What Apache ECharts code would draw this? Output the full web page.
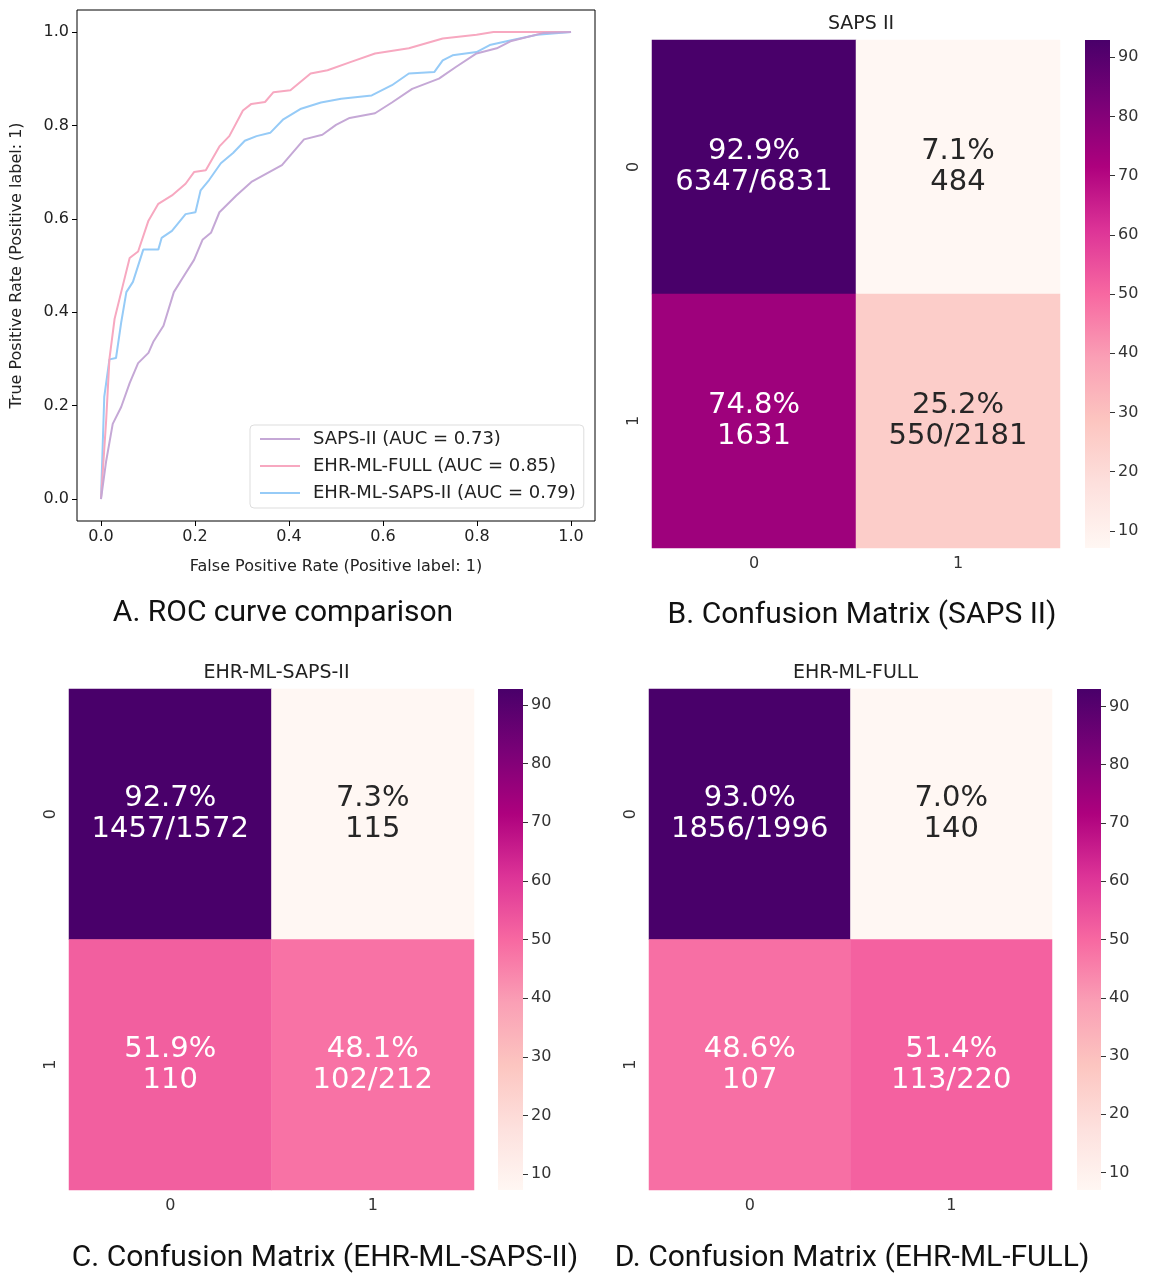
<!DOCTYPE html>
<html>
<head>
<meta charset="utf-8">
<script src="https://cdn.jsdelivr.net/npm/echarts@6/dist/echarts.min.js"></script>
<style>
  html, body { margin: 0; background: #fff; }
  #main { width: 1153px; height: 1280px; }
</style>
</head>
<body>
<div id="main"></div>
<script>
// ROC curves [fpr, tpr]
var rocSaps = [[0,0],[0.011,0.081],[0.025,0.161],[0.043,0.197],[0.061,0.248],[0.079,0.291],[0.101,0.313],[0.112,0.338],[0.133,0.371],[0.155,0.443],[0.173,0.472],[0.198,0.512],[0.216,0.555],[0.234,0.57],[0.252,0.614],[0.288,0.65],[0.32,0.679],[0.385,0.715],[0.432,0.77],[0.471,0.78],[0.5,0.801],[0.529,0.816],[0.583,0.826],[0.619,0.849],[0.662,0.878],[0.719,0.9],[0.755,0.925],[0.799,0.954],[0.842,0.965],[0.871,0.98],[0.942,0.998],[1,1]];
var rocFull = [[0,0],[0.011,0.168],[0.018,0.30],[0.029,0.386],[0.043,0.443],[0.061,0.516],[0.079,0.53],[0.101,0.596],[0.122,0.632],[0.151,0.65],[0.18,0.675],[0.198,0.70],[0.223,0.704],[0.252,0.755],[0.273,0.777],[0.302,0.832],[0.32,0.846],[0.349,0.85],[0.367,0.871],[0.403,0.875],[0.446,0.911],[0.482,0.918],[0.532,0.936],[0.583,0.954],[0.655,0.965],[0.727,0.986],[0.799,0.994],[0.835,1],[1,1]];
var rocEhrSaps = [[0,0],[0.007,0.219],[0.018,0.299],[0.032,0.302],[0.043,0.378],[0.054,0.443],[0.068,0.465],[0.09,0.534],[0.122,0.534],[0.129,0.559],[0.151,0.574],[0.18,0.61],[0.201,0.614],[0.212,0.661],[0.23,0.683],[0.255,0.719],[0.281,0.741],[0.306,0.767],[0.331,0.777],[0.36,0.784],[0.388,0.813],[0.424,0.835],[0.468,0.849],[0.511,0.857],[0.576,0.864],[0.619,0.886],[0.655,0.911],[0.709,0.914],[0.727,0.939],[0.748,0.95],[0.799,0.957],[0.827,0.972],[0.863,0.98],[0.928,0.994],[1,1]];
var rocNames = ['SAPS-II (AUC = 0.73)', 'EHR-ML-FULL (AUC = 0.85)', 'EHR-ML-SAPS-II (AUC = 0.79)'];
var rocTicks = [0, 0.2, 0.4, 0.6, 0.8, 1.0];

// confusion matrices: row-normalised percent and count text
var classes = ['0', '1'];
var pctB = [[92.9, 7.1], [74.8, 25.2]];
var cntB = [['6347/6831', '484'], ['1631', '550/2181']];
var pctC = [[92.7, 7.3], [51.9, 48.1]];
var cntC = [['1457/1572', '115'], ['110', '102/212']];
var pctD = [[93.0, 7.0], [48.6, 51.4]];
var cntD = [['1856/1996', '140'], ['107', '113/220']];
var cbarTicks = [10, 20, 30, 40, 50, 60, 70, 80, 90];

var RdPu = ['#fff7f3', '#fde0dd', '#fcc5c0', '#fa9fb5', '#f768a1', '#dd3497', '#ae017e', '#7a0177', '#49006a'];
var FONT = 'DejaVu Sans';

var chart = echarts.init(document.getElementById('main'));

var rocTick = { show: true, customValues: rocTicks, length: 5, inside: false, lineStyle: { color: '#000' } };
var rocLabel = { customValues: rocTicks, fontFamily: FONT, fontSize: 16, color: '#222', formatter: function (v) { return v.toFixed(1); } };
var grids = [{ left: 77, top: 10, width: 518, height: 511, show: true, borderColor: '#000', borderWidth: 1, backgroundColor: 'transparent' }];
var xAxes = [{
  type: 'value', gridIndex: 0, min: -0.051, max: 1.051, position: 'bottom',
  name: 'False Positive Rate (Positive label: 1)', nameLocation: 'middle', nameGap: 38,
  nameTextStyle: { fontFamily: FONT, fontSize: 16, color: '#222' },
  axisLine: { show: false, onZero: false }, splitLine: { show: false },
  axisTick: rocTick, axisLabel: rocLabel
}];
var yAxes = [{
  type: 'value', gridIndex: 0, min: -0.047, max: 1.047, position: 'left',
  name: 'True Positive Rate (Positive label: 1)', nameLocation: 'middle', nameGap: 52,
  nameTextStyle: { fontFamily: FONT, fontSize: 16, color: '#222' },
  axisLine: { show: false, onZero: false }, splitLine: { show: false },
  axisTick: rocTick, axisLabel: rocLabel
}];
var rocColors = ['#c5a8d6', '#f7a8c0', '#96cbf7'];
var series = [rocSaps, rocFull, rocEhrSaps].map(function (d, i) {
  return { type: 'line', name: rocNames[i], xAxisIndex: 0, yAxisIndex: 0, data: d, showSymbol: false,
    lineStyle: { color: rocColors[i], width: 2 }, itemStyle: { color: rocColors[i] }, z: 3 - i };
});
var titles = [];
var visualMaps = [];

function addMatrix(pct, cnt, box, cbar, title) {
  var gi = grids.length;
  grids.push({ left: box[0], top: box[1], width: box[2], height: box[3] });
  grids.push({ left: cbar[0], top: box[1], width: cbar[1], height: box[3] });
  var flat = [].concat(pct[0], pct[1]);
  var vmin = Math.min.apply(null, flat), vmax = Math.max.apply(null, flat);
  var tickFont = { fontFamily: FONT, fontSize: 16, color: '#333' };
  xAxes.push({ type: 'category', gridIndex: gi, data: classes, axisLine: { show: false },
    axisTick: { alignWithLabel: true, length: 5, lineStyle: { color: '#333' } }, axisLabel: tickFont, splitArea: { show: false } });
  yAxes.push({ type: 'category', gridIndex: gi, data: classes, inverse: true, axisLine: { show: false },
    axisTick: { alignWithLabel: true, length: 5, lineStyle: { color: '#333' } },
    axisLabel: Object.assign({ rotate: 90, margin: 10 }, tickFont) });
  xAxes.push({ type: 'category', gridIndex: gi + 1, data: [''], show: false });
  yAxes.push({ type: 'value', gridIndex: gi + 1, min: vmin, max: vmax, position: 'right',
    axisLine: { show: false }, splitLine: { show: false },
    axisTick: { show: true, customValues: cbarTicks, length: 5, lineStyle: { color: '#333' } },
    axisLabel: Object.assign({ customValues: cbarTicks, margin: 8 }, tickFont) });
  var data = [];
  for (var r = 0; r < 2; r++) for (var c = 0; c < 2; c++) {
    var norm = (pct[r][c] - vmin) / (vmax - vmin);
    data.push({ value: [c, r, pct[r][c]], label: { color: norm > 0.4 ? '#fff' : '#262626',
      formatter: pct[r][c].toFixed(1) + '%\n' + cnt[r][c] } });
  }
  var si = series.length;
  series.push({ type: 'heatmap', xAxisIndex: gi, yAxisIndex: gi, data: data,
    label: { show: true, fontFamily: FONT, fontSize: 29, lineHeight: 31 } });
  visualMaps.push({ type: 'continuous', show: false, seriesIndex: si, min: vmin, max: vmax, dimension: 2, inRange: { color: RdPu } });
  var stops = RdPu.map(function (col, i) { return { offset: 1 - i / (RdPu.length - 1), color: col }; });
  series.push({ type: 'bar', xAxisIndex: gi + 1, yAxisIndex: gi + 1, data: [vmax], barWidth: '100%', silent: true,
    itemStyle: { color: new echarts.graphic.LinearGradient(0, 0, 0, 1, stops) } });
  titles.push({ text: title, left: box[0] + box[2] / 2, top: box[1] - 30, textAlign: 'center',
    textStyle: { fontFamily: FONT, fontSize: 19, fontWeight: 'normal', color: '#222' } });
}

addMatrix(pctB, cntB, [652, 40, 408, 508], [1085, 25], 'SAPS II');
addMatrix(pctC, cntC, [69, 689, 405, 501], [498, 25], 'EHR-ML-SAPS-II');
addMatrix(pctD, cntD, [649, 689, 403, 501], [1077, 24], 'EHR-ML-FULL');

var capStyle = { fontFamily: 'Roboto', fontSize: 30, fontWeight: 'normal', color: '#111' };
[['A. ROC curve comparison', 278, 593], ['B. Confusion Matrix (SAPS II)', 857, 595],
 ['C. Confusion Matrix (EHR-ML-SAPS-II)', 320, 1238], ['D. Confusion Matrix (EHR-ML-FULL)', 847, 1238]].forEach(function (t) {
  titles.push({ text: t[0], left: t[1], top: t[2], textAlign: 'center', textStyle: capStyle });
});

chart.setOption({
  animation: false,
  title: titles,
  grid: grids,
  xAxis: xAxes,
  yAxis: yAxes,
  visualMap: visualMaps,
  legend: {
    data: rocNames, orient: 'vertical', left: 250, top: 425, padding: [5, 8, 6, 10], itemGap: 9,
    itemWidth: 40, itemHeight: 2, icon: 'rect', borderColor: '#ddd', borderWidth: 1, borderRadius: 4,
    backgroundColor: 'rgba(255,255,255,0.8)',
    textStyle: { fontFamily: FONT, fontSize: 18, color: '#222', padding: [0, 0, 0, 8] }
  },
  series: series
});
</script>
</body>
</html>
